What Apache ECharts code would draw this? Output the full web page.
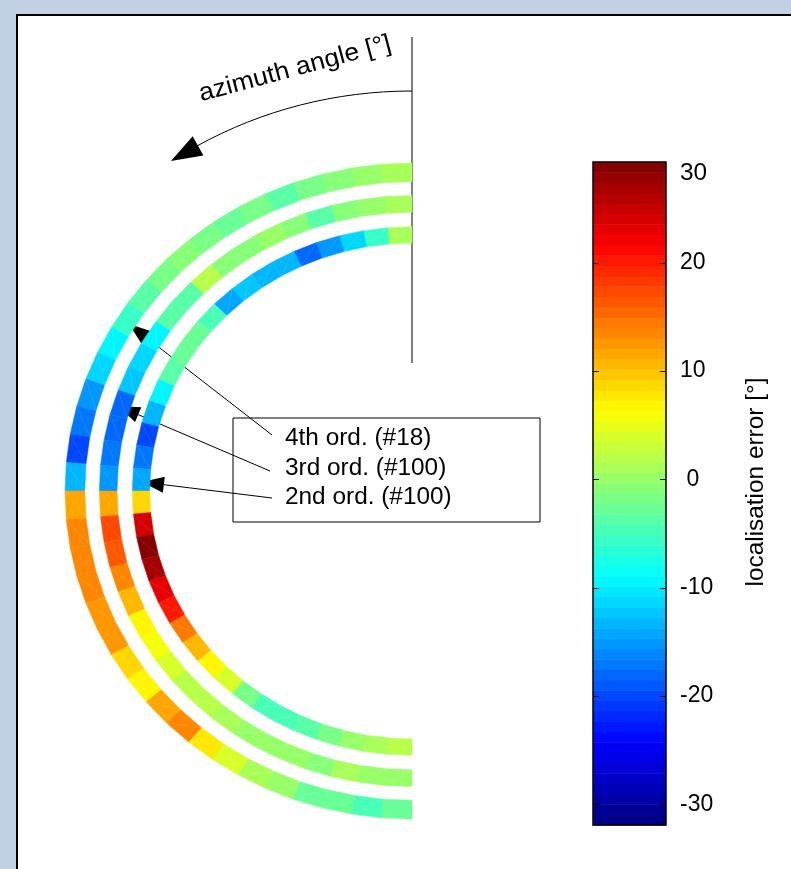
<!DOCTYPE html>
<html>
<head>
<meta charset="utf-8">
<script src="https://cdn.jsdelivr.net/npm/echarts@6/dist/echarts.min.js"></script>
<style>
html, body { margin: 0; padding: 0; width: 791px; height: 869px; overflow: hidden; background: #c2d0e3; }
#frame { position: absolute; left: 16px; top: 14px; width: 800px; height: 900px; background: #fff; border-left: 2px solid #000; border-top: 2px solid #000; }
#chart { position: absolute; left: 0; top: 0; width: 791px; height: 869px; }
</style>
</head>
<body>
<div id="frame"></div>
<div id="chart"></div>
<script>
// azimuth bin edges [deg], 0 = front (top), 180 = back (bottom)
var azimuthEdges = [0, 5, 10, 15, 20, 25, 30, 35, 40, 45, 50, 55, 60, 65, 70, 75, 80, 85, 90,
	95, 100, 105, 110, 115, 120, 125, 130, 135, 140, 145, 150, 155, 160, 165, 170, 175, 180];

// localisation error [deg] per azimuth bin
var order4 = [1.0, 0.5, -0.4, -1.3, -3.3, -1.3, -3.0, -1.5, -1.0, -2.0, -3.5, -6.0,
	-9.9, -11.1, -14.8, -17.5, -20.4, -12.8, 12.0, 14.0, 13.5, 13.5, 12.7, 12.3,
	8.5, 6.4, 11.4, 13.5, 8.2, 3.5, 0.7, 0.0, -2.3, -2.3, -4.2, -2.3];
var order3 = [0.8, -0.2, -1.0, -3.3, -1.2, -0.3, -0.5, -1.0, 2.5, -3.5, -3.8, -9.5,
	-11.7, -12.0, -18.4, -18.4, -17.5, -14.8, 12.0, 16.9, 16.7, 13.5, 10.6, 6.4,
	6.0, 4.1, 2.5, 2.5, 1.5, 0.5, -0.2, -0.2, -0.5, 1.5, -0.2, -0.2];
var order2 = [0.8, -6.0, -11.1, -14.8, -18.4, -13.5, -12.8, -12.3, -13.9, -5.1, -3.0, -2.3,
	-3.5, -9.0, -12.8, -20.4, -17.5, -14.4, 9.1, 23.6, 28.4, 27.3, 22.7, 19.8,
	14.9, 10.6, 6.4, 3.6, -2.0, -4.2, -5.0, -3.5, -1.3, -0.3, 1.1, 2.5];

var ringNames = ['4th ord. (#18)', '3rd ord. (#100)', '2nd ord. (#100)'];
var ringValues = [order4, order3, order2];
var ringRadii = [[0.943, 1.0], [0.850, 0.901], [0.756, 0.806]];

// colour axis
var cbMin = -31.9;
var cbMax = 29.3;
var cbTicks = [-30, -20, -10, 0, 10, 20];
var cbTopLabel = '30';
var nColors = 64;

var FONT = 'Liberation Sans, Arial, sans-serif';

function jetColor(t) {
	function c(x) { return Math.round(255 * Math.max(0, Math.min(1, x))); }
	return 'rgb(' + c(1.5 - Math.abs(4 * t - 3)) + ',' + c(1.5 - Math.abs(4 * t - 2)) + ',' + c(1.5 - Math.abs(4 * t - 1)) + ')';
}

// piecewise colour map like MATLAB jet(64)
var step = (cbMax - cbMin) / nColors;
var pieces = [];
var cbBands = [];
for (var i = 0; i < nColors; i++) {
	var lo = cbMin + i * step;
	var hi = lo + step;
	var p = { gte: lo, color: jetColor((i + 0.5) / nColors) };
	if (i == nColors - 1) p.lte = cbMax + 1; else p.lt = hi;
	pieces.push(p);
	cbBands.push([lo, hi, lo + step / 2]);
}

function renderSegment(params, api) {
	var a0 = api.value(0) * Math.PI / 180;
	var a1 = api.value(1) * Math.PI / 180;
	var r0 = api.value(2), r1 = api.value(3);
	function pt(r, a) { return api.coord([-r * Math.sin(a), r * Math.cos(a)]); }
	var p1 = pt(r1, a0), p2 = pt(r1, a1), p3 = pt(r0, a1), p4 = pt(r0, a0);
	var color = api.visual('color');
	return {
		type: 'group',
		children: [{
			type: 'polygon',
			shape: { points: [p1, p2, p3, p4] },
			style: { fill: color, stroke: color, lineWidth: 0.5 }
		}, {
			type: 'line',
			shape: { x1: p1[0], y1: p1[1], x2: p3[0], y2: p3[1] },
			style: { stroke: 'rgba(255,255,255,0.18)', lineWidth: 0.6 }
		}]
	};
}

function renderBand(params, api) {
	var a = api.coord([0, api.value(1)]);
	var b = api.coord([1, api.value(0)]);
	var color = api.visual('color');
	return {
		type: 'rect',
		shape: { x: a[0], y: a[1], width: b[0] - a[0], height: b[1] - a[1] + 0.5 },
		style: { fill: color }
	};
}

// short inside tick marks on both edges of the colour bar
function renderTick(params, api) {
	var l = api.coord([0, api.value(0)]);
	var r = api.coord([1, api.value(0)]);
	var y = Math.round(l[1]) + 0.5;
	return {
		type: 'group',
		children: [
			{ type: 'line', shape: { x1: l[0], y1: y, x2: l[0] + 6, y2: y }, style: { stroke: '#000', lineWidth: 1 } },
			{ type: 'line', shape: { x1: r[0] - 6, y1: y, x2: r[0], y2: y }, style: { stroke: '#000', lineWidth: 1 } }
		]
	};
}

function arrowHead(tip, from, len, halfW) {
	var dx = tip[0] - from[0], dy = tip[1] - from[1];
	var d = Math.sqrt(dx * dx + dy * dy);
	var ux = dx / d, uy = dy / d;
	var bx = tip[0] - ux * len, by = tip[1] - uy * len;
	return {
		base: [bx, by],
		points: [tip, [bx - uy * halfW, by + ux * halfW], [bx + uy * halfW, by - ux * halfW]]
	};
}

var series = [];
for (var s = 0; s < ringValues.length; s++) {
	var data = [];
	for (var k = 0; k < ringValues[s].length; k++) {
		data.push([azimuthEdges[k], azimuthEdges[k + 1], ringRadii[s][0], ringRadii[s][1], ringValues[s][k]]);
	}
	series.push({
		name: ringNames[s],
		type: 'custom',
		xAxisIndex: 0,
		yAxisIndex: 0,
		renderItem: renderSegment,
		clip: false,
		animation: false,
		data: data
	});
}
series.push({
	name: 'colorbar',
	type: 'custom',
	xAxisIndex: 1,
	yAxisIndex: 1,
	renderItem: renderBand,
	animation: false,
	data: cbBands
});
series.push({
	name: 'colorbar ticks',
	type: 'custom',
	xAxisIndex: 1,
	yAxisIndex: 1,
	renderItem: renderTick,
	animation: false,
	z: 4,
	data: cbTicks.map(function(v) { return [v]; })
});

// annotations
var graphics = [];
graphics.push({ type: 'line', shape: { x1: 412, y1: 37, x2: 412, y2: 363 }, style: { stroke: '#000', lineWidth: 1 } });
var azTip = [171, 161];
var azEnd = [197, 146];
graphics.push({
	type: 'bezierCurve',
	shape: { x1: 412, y1: 91, cpx1: 336, cpy1: 91, cpx2: 262, cpy2: 110, x2: azEnd[0], y2: azEnd[1] },
	style: { stroke: '#000', lineWidth: 1, fill: null }
});
graphics.push({ type: 'polygon', shape: { points: arrowHead(azTip, [262, 110], 31, 11).points }, style: { fill: '#000' } });
graphics.push({
	type: 'text', x: 295, y: 69, rotation: 15 * Math.PI / 180, scaleX: 1.06,
	style: { text: 'azimuth angle [°]', fontSize: 25, fontFamily: FONT, fill: '#000', align: 'center', verticalAlign: 'middle' }
});

var leaders = [
	{ from: [272, 435], tip: [129, 324], ty: 439 },
	{ from: [270, 471], tip: [118, 406], ty: 469 },
	{ from: [272, 498], tip: [142, 482], ty: 498 }
];
graphics.push({ type: 'rect', shape: { x: 233, y: 418, width: 307, height: 104 }, style: { fill: '#fff', stroke: '#000', lineWidth: 1 } });
for (var j = 0; j < leaders.length; j++) {
	var ah = arrowHead(leaders[j].tip, leaders[j].from, 22, 8);
	graphics.push({ type: 'line', shape: { x1: leaders[j].from[0], y1: leaders[j].from[1], x2: ah.base[0], y2: ah.base[1] }, style: { stroke: '#000', lineWidth: 1 } });
	graphics.push({ type: 'polygon', shape: { points: ah.points }, style: { fill: '#000' } });
	graphics.push({
		type: 'text', x: 285, y: leaders[j].ty, scaleX: 1.06,
		style: { text: ringNames[j], fontSize: 23, fontFamily: FONT, fill: '#000', verticalAlign: 'middle' }
	});
}
graphics.push({
	type: 'text', x: 680, y: 174, scaleX: 1.06,
	style: { text: cbTopLabel, fontSize: 23, fontFamily: FONT, fill: '#000', verticalAlign: 'middle' }
});
graphics.push({
	type: 'text', x: 757, y: 482, rotation: Math.PI / 2, scaleX: 1.06,
	style: { text: 'localisation error [°]', fontSize: 23, fontFamily: FONT, fill: '#000', align: 'center', verticalAlign: 'middle' }
});

var chart = echarts.init(document.getElementById('chart'));
chart.setOption({
	backgroundColor: 'transparent',
	animation: false,
	grid: [
		{ left: 65, top: 163, width: 347, height: 656 },
		{ left: 593, top: 162, width: 73, height: 663, show: true, borderColor: '#000', borderWidth: 1.5, backgroundColor: 'transparent', z: 5 }
	],
	xAxis: [
		{ gridIndex: 0, type: 'value', min: -1, max: 0, show: false },
		{ gridIndex: 1, type: 'value', min: 0, max: 1, show: false }
	],
	yAxis: [
		{ gridIndex: 0, type: 'value', min: -1, max: 1, show: false },
		{
			gridIndex: 1, type: 'value', min: cbMin, max: cbMax, position: 'right',
			axisLine: { show: false },
			splitLine: { show: false },
			axisTick: { show: false },
			axisLabel: {
				show: true, customValues: cbTicks, margin: 14, fontSize: 23, fontFamily: FONT, color: '#000',
				formatter: function(v) { return v === 0 ? ' 0' : String(v); }
			}
		}
	],
	visualMap: [
		{ type: 'piecewise', show: false, dimension: 4, seriesIndex: [0, 1, 2], pieces: pieces },
		{ type: 'piecewise', show: false, dimension: 2, seriesIndex: [3], pieces: pieces }
	],
	graphic: graphics,
	series: series
});
</script>
</body>
</html>
